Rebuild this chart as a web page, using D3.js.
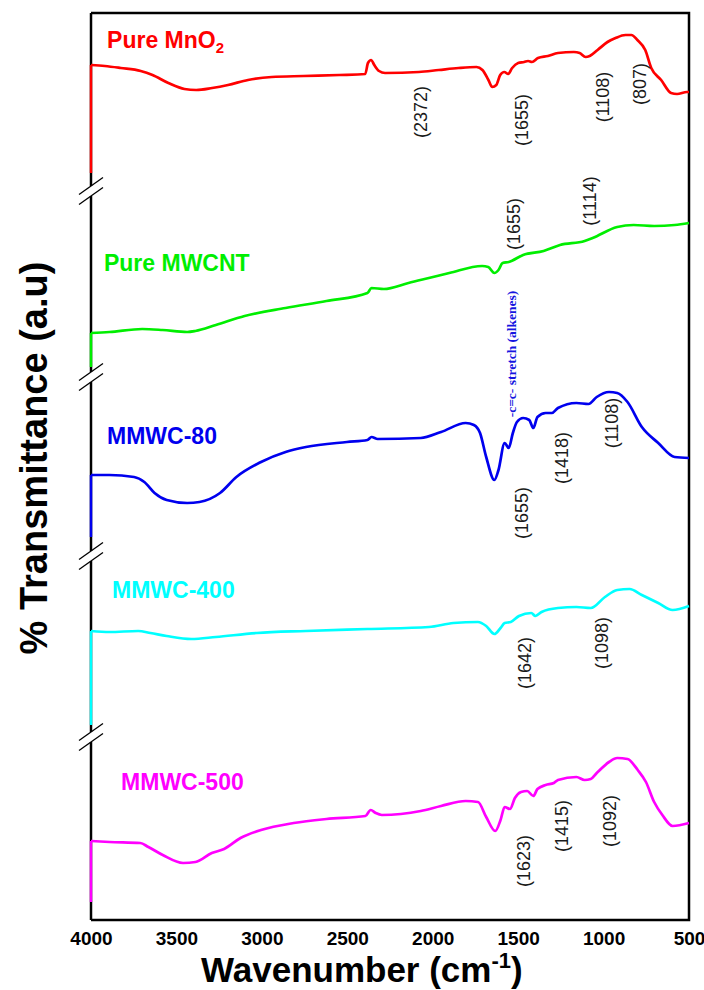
<!DOCTYPE html>
<html>
<head>
<meta charset="utf-8">
<title>FTIR spectra</title>
<style>
    body { margin: 0; background: #fff; }
    text { font-family: Arial, "Liberation Sans", sans-serif; }
</style>
<script src="https://d3js.org/d3.v7.min.js"></script>
</head>
<body>
<script>
// wavenumber ticks
const xTicks = [4000, 3500, 3000, 2500, 2000, 1500, 1000, 500];

// stacked transmittance (a.u.), pairs of [wavenumber, value]
const mno2 = [[4000, 74.7], [4000, 85.5], [3919, 85.4], [3826, 85.2], [3709, 84.9], [3640, 84.5], [3547, 83.7], [3453, 83.1],
    [3384, 83.0], [3291, 83.2], [3198, 83.5], [3081, 84.0], [2942, 84.3], [2756, 84.4], [2547, 84.5], [2395, 84.6],
    [2379, 85.7], [2360, 86.0], [2342, 85.5], [2314, 84.9], [2279, 84.7], [2081, 84.8], [1965, 85.0], [1849, 85.2],
    [1744, 85.3], [1709, 85.0], [1674, 84.0], [1651, 83.3], [1628, 83.5], [1605, 84.5], [1581, 84.8], [1558, 84.6],
    [1535, 85.2], [1500, 85.7], [1465, 85.8], [1442, 85.9], [1419, 85.8], [1384, 86.2], [1326, 86.4], [1267, 86.7],
    [1174, 86.8], [1140, 86.7], [1105, 86.3], [1081, 86.4], [1035, 87.0], [977, 87.8], [930, 88.2], [872, 88.5],
    [837, 88.5], [802, 88.0], [756, 87.0], [721, 85.2], [663, 84.0], [605, 82.7], [570, 82.6], [512, 82.8], [500, 82.8]];

const mwcnt = [[4000, 55.3], [4000, 58.7], [3892, 58.8], [3700, 59.1], [3581, 59.0], [3437, 58.8], [3389, 58.9], [3269, 59.5],
    [3101, 60.4], [2861, 61.2], [2622, 61.9], [2382, 62.7], [2358, 63.2], [2286, 63.1], [2142, 63.7], [1903, 64.7],
    [1711, 65.4], [1675, 65.3], [1639, 64.7], [1615, 65.0], [1591, 65.7], [1555, 65.8], [1471, 66.5], [1351, 66.9],
    [1255, 67.5], [1111, 67.9], [1064, 68.2], [920, 69.3], [824, 69.5], [704, 69.4], [584, 69.5], [500, 69.7]];

const mmwc80 = [[4000, 38.3], [4000, 44.5], [3892, 44.5], [3748, 44.3], [3688, 43.8], [3628, 42.7], [3557, 42.0], [3437, 41.7],
    [3365, 41.8], [3245, 42.7], [3149, 44.3], [3005, 45.8], [2861, 46.8], [2742, 47.3], [2502, 47.8], [2382, 48.0],
    [2358, 48.3], [2322, 48.1], [2070, 48.2], [1951, 48.8], [1807, 49.7], [1759, 49.5], [1723, 48.7], [1687, 46.3],
    [1639, 44.0], [1615, 45.0], [1579, 47.7], [1555, 47.2], [1531, 48.7], [1507, 49.8], [1471, 50.2], [1435, 50.0],
    [1411, 49.2], [1387, 50.3], [1339, 50.7], [1303, 50.7], [1267, 51.2], [1159, 51.7], [1088, 51.6], [1040, 52.3],
    [968, 52.8], [920, 52.7], [860, 51.8], [776, 49.3], [680, 47.7], [584, 46.3], [500, 46.2]];

const mmwc400 = [[4000, 19.5], [4000, 28.9], [3892, 28.8], [3724, 28.9], [3652, 28.7], [3557, 28.4], [3413, 28.1], [3269, 28.3],
    [3029, 28.7], [2742, 28.9], [2382, 29.1], [2022, 29.3], [1879, 29.7], [1735, 29.8], [1687, 29.4], [1639, 28.6],
    [1603, 29.2], [1579, 29.7], [1543, 29.8], [1495, 30.4], [1423, 30.7], [1399, 30.4], [1363, 30.8], [1267, 31.2],
    [1159, 31.3], [1075, 31.2], [992, 32.3], [920, 33.0], [848, 33.1], [776, 32.5], [680, 31.7], [596, 31.0], [500, 31.4]];

const mmwc500 = [[4000, 1.8], [4000, 7.9], [3892, 7.8], [3712, 7.7], [3664, 7.3], [3580, 6.5], [3461, 5.7], [3389, 5.8],
    [3293, 6.7], [3221, 7.1], [3125, 8.2], [3005, 9.0], [2814, 9.7], [2622, 10.1], [2394, 10.4], [2363, 11.0],
    [2334, 10.7], [2298, 10.5], [2070, 10.9], [1951, 11.4], [1807, 11.9], [1735, 11.8], [1687, 10.3], [1634, 8.9],
    [1603, 10.0], [1579, 11.3], [1548, 11.1], [1519, 12.2], [1483, 12.8], [1447, 12.9], [1411, 12.4], [1387, 13.1],
    [1339, 13.5], [1291, 13.7], [1267, 14.0], [1159, 14.3], [1111, 14.0], [1075, 14.1], [1040, 14.7], [968, 15.8],
    [920, 16.2], [860, 16.1], [800, 15.0], [752, 13.8], [704, 11.8], [656, 10.5], [596, 9.4], [500, 9.7]];

const seriesNames = ["Pure MnO", "Pure MWCNT", "MMWC-80", "MMWC-400", "MMWC-500"];
const seriesColors = ["#ff0000", "#00ee00", "#0000ee", "#00ffff", "#ff00ff"];
const seriesData = [mno2, mwcnt, mmwc80, mmwc400, mmwc500];
// where each name sits: [wavenumber, value]
const nameAnchors = [[3906, 87.2], [3924, 64.9], [3906, 47.6], [3877, 32.2], [3824, 13.0]];

// peak labels: [text, wavenumber, value]
const peakLabels = [
    ["(2372)", 2069, 80.8], ["(1655)", 1477, 80.0], ["(1108)", 1003, 82.3], ["(807)", 787, 83.6],
    ["(1655)", 1524, 69.6], ["(1114)", 1079, 71.9],
    ["(1655)", 1477, 40.7], ["(1418)", 1243, 46.2], ["(1108)", 948, 49.7],
    ["(1642)", 1460, 25.7], ["(1098)", 1009, 27.7],
    ["(1623)", 1466, 5.9], ["(1415)", 1243, 9.4], ["(1092)", 962, 9.9]
];
const stretchLabel = ["-c=c- stretch (alkenes)", 1536, 56.6];

// axis breaks on the left axis (value)
const breaks = [72.9, 54.3, 36.4, 18.3];

const width = 704, height = 990;
const pLeft = 91, pRight = 689, pTop = 13, pBottom = 920;

const svg = d3.select("body").append("svg")
    .attr("width", width)
    .attr("height", height);

const x = d3.scaleLinear().domain([4000, 500]).range([pLeft, pRight]);
const y = d3.scaleLinear().domain([0, 90.7]).range([pBottom, pTop]);

// frame (top, right, bottom)
svg.append("path")
    .attr("d", `M${pLeft},${pTop}H${pRight}V${pBottom}H${pLeft}`)
    .attr("fill", "none")
    .attr("stroke", "#000")
    .attr("stroke-width", 2.5);

// left axis with gaps
const gap = 5;
let segs = [];
let yPrev = pTop;
breaks.map(b => y(b)).sort((a, b) => a - b).forEach(yb => {
    segs.push([yPrev, yb - gap]);
    yPrev = yb + gap;
});
segs.push([yPrev, pBottom]);
svg.selectAll(".ax").data(segs).enter().append("line")
    .attr("x1", pLeft).attr("x2", pLeft)
    .attr("y1", d => d[0]).attr("y2", d => d[1])
    .attr("stroke", "#000").attr("stroke-width", 2.5);

breaks.forEach(b => {
    [-gap, gap].forEach(o => {
        svg.append("line")
            .attr("x1", pLeft - 12).attr("y1", y(b) + o + 8.5)
            .attr("x2", pLeft + 12).attr("y2", y(b) + o - 8.5)
            .attr("stroke", "#000").attr("stroke-width", 1.3);
    });
});

// spectra: vertical start stub + smooth curve
const stub = d3.line()
    .x(d => x(d[0]))
    .y(d => y(d[1]));
const line = d3.line()
    .x(d => x(d[0]))
    .y(d => y(d[1]))
    .curve(d3.curveMonotoneX);

seriesData.forEach((s, i) => {
    svg.append("path")
        .datum(s.slice(0, 2))
        .attr("d", stub)
        .attr("fill", "none")
        .attr("stroke", seriesColors[i])
        .attr("stroke-width", 2.5);
    svg.append("path")
        .datum(s.slice(1))
        .attr("d", line)
        .attr("fill", "none")
        .attr("stroke", seriesColors[i])
        .attr("stroke-width", 2.7)
        .attr("stroke-linejoin", "round");
});

// series names
seriesNames.forEach((n, i) => {
    const t = svg.append("text")
        .attr("x", x(nameAnchors[i][0]))
        .attr("y", y(nameAnchors[i][1]))
        .attr("fill", seriesColors[i])
        .attr("font-weight", "bold")
        .attr("font-size", 23)
        .text(n);
    if (i === 0) {
        t.append("tspan").attr("font-size", 15).attr("dy", 5).text("2");
    }
});

// peak labels
svg.selectAll(".peak").data(peakLabels).enter().append("text")
    .attr("transform", d => `translate(${x(d[1])},${y(d[2])}) rotate(-90)`)
    .attr("text-anchor", "middle")
    .attr("dominant-baseline", "central")
    .attr("font-size", 18)
    .attr("fill", "#1a1a1a")
    .text(d => d[0]);

svg.append("text")
    .attr("transform", `translate(${x(stretchLabel[1])},${y(stretchLabel[2])}) rotate(-90)`)
    .attr("text-anchor", "middle")
    .attr("dominant-baseline", "central")
    .style("font-family", "'Liberation Serif', 'Times New Roman', serif")
    .attr("font-weight", "bold")
    .attr("font-size", 13.5)
    .attr("fill", "#1515e0")
    .text(stretchLabel[0]);

// x axis
const xAxis = svg.append("g")
    .attr("transform", `translate(0,${pBottom})`)
    .call(d3.axisBottom(x).tickValues(xTicks).tickSize(0).tickPadding(12).tickFormat(d3.format("d")));
xAxis.select(".domain").remove();
xAxis.selectAll("text")
    .attr("font-size", 19)
    .attr("font-weight", "bold")
    .attr("fill", "#000")
    .style("font-family", "Arial, 'Liberation Sans', sans-serif");

// axis titles
const xt = svg.append("text")
    .attr("x", 201)
    .attr("y", 982)
    .attr("font-size", 35)
    .attr("font-weight", "bold")
    .text("Wavenumber (cm");
xt.append("tspan").attr("font-size", 22).attr("dy", -14).text("-1");
xt.append("tspan").attr("dy", 14).text(")");

svg.append("text")
    .attr("transform", `translate(47,458) rotate(-90)`)
    .attr("text-anchor", "middle")
    .attr("font-size", 38)
    .attr("font-weight", "bold")
    .text("% Transmittance (a.u)");
</script>
</body>
</html>
